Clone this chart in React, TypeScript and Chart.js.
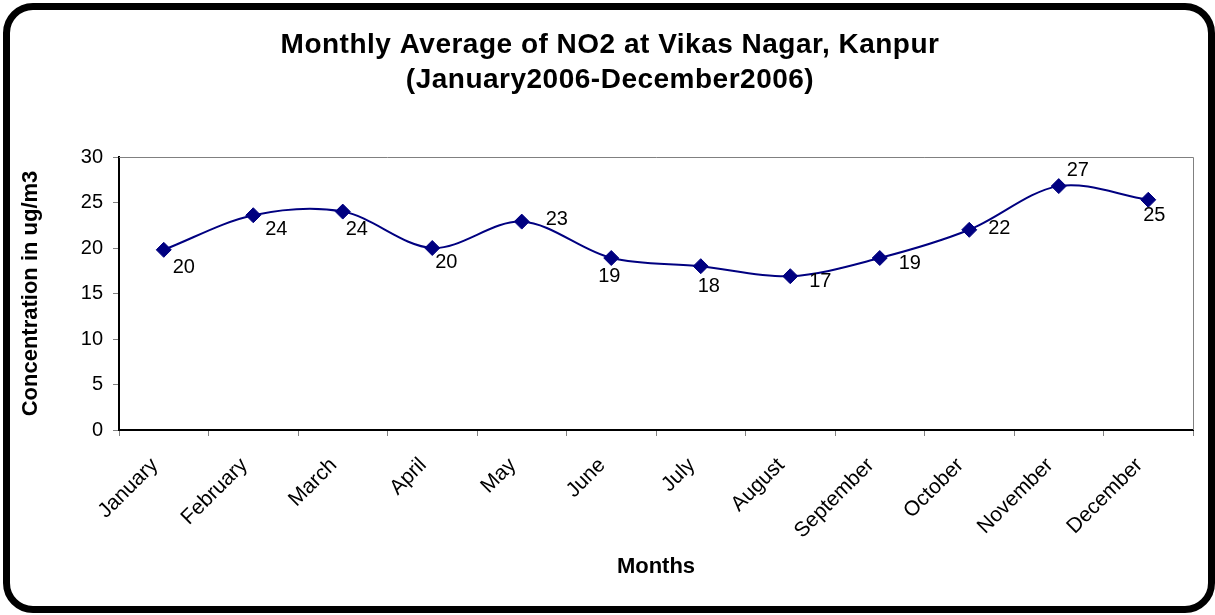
import React, { useEffect, useRef } from "react";
import { Chart, registerables } from "chart.js";

Chart.register(...registerables);

const FONT = '"Liberation Sans", Arial, Helvetica, sans-serif';

const months = [
  "January",
  "February",
  "March",
  "April",
  "May",
  "June",
  "July",
  "August",
  "September",
  "October",
  "November",
  "December",
];

const no2Values = [19.8, 23.6, 24.0, 20.0, 22.9, 18.9, 18.0, 16.9, 18.9, 22.0, 26.8, 25.3];

const titleLines = ["Monthly Average of NO2 at Vikas Nagar, Kanpur", "(January2006-December2006)"];
const xAxisTitle = "Months";
const yAxisTitle = "Concentration in ug/m3";
const yMin = 0;
const yMax = 30;
const yStep = 5;

// label placement offsets (style only, relative to each point)
const labelOffsets: [number, number][] = [
  [20, 18],
  [23, 14],
  [14, 18],
  [14, 14],
  [35, -2],
  [-2, 18],
  [8, 20],
  [30, 5],
  [30, 5],
  [30, -1],
  [19, -16],
  [6, 16],
];

const titlePlugin = {
  id: "customTitle",
  afterDraw(chart: any) {
    const ctx = chart.ctx as CanvasRenderingContext2D;
    ctx.save();
    ctx.font = `bold 28px ${FONT}`;
    ctx.fillStyle = "#000";
    ctx.textAlign = "center";
    ctx.textBaseline = "alphabetic";
    (ctx as any).letterSpacing = "0.5px";
    ctx.fillText(titleLines[0], 610, 53);
    ctx.fillText(titleLines[1], 610, 88);
    ctx.restore();
  },
};

const plotBorderPlugin = {
  id: "plotBorder",
  beforeDatasetsDraw(chart: any) {
    const { ctx, chartArea } = chart;
    ctx.save();
    ctx.strokeStyle = "#808080";
    ctx.lineWidth = 1;
    ctx.beginPath();
    ctx.moveTo(chartArea.left, Math.round(chartArea.top) + 0.5);
    ctx.lineTo(Math.round(chartArea.right) + 0.5, Math.round(chartArea.top) + 0.5);
    ctx.lineTo(Math.round(chartArea.right) + 0.5, chartArea.bottom);
    ctx.stroke();
    ctx.restore();
  },
};

const dataLabelPlugin = {
  id: "dataLabels",
  afterDatasetsDraw(chart: any) {
    const ctx = chart.ctx as CanvasRenderingContext2D;
    const meta = chart.getDatasetMeta(0);
    ctx.save();
    ctx.font = `20px ${FONT}`;
    ctx.fillStyle = "#000";
    ctx.textAlign = "center";
    ctx.textBaseline = "middle";
    meta.data.forEach((pt: any, i: number) => {
      const [dx, dy] = labelOffsets[i] || [10, 10];
      ctx.fillText(String(Math.round(no2Values[i])), pt.x + dx, pt.y + dy);
    });
    ctx.restore();
  },
};

export default function App() {
  const ref = useRef<HTMLCanvasElement>(null);

  useEffect(() => {
    document.body.style.margin = "0";
    const canvas = ref.current;
    if (!canvas) return;
    const chart = new Chart(canvas, {
      type: "line",
      data: {
        labels: months,
        datasets: [
          {
            data: no2Values,
            borderColor: "#000080",
            backgroundColor: "#000080",
            borderWidth: 2,
            tension: 0.33,
            fill: false,
            pointStyle: "rectRot",
            pointRadius: 7.5,
            pointBackgroundColor: "#000080",
            pointBorderColor: "#000080",
            pointBorderWidth: 1,
            clip: false,
          } as any,
        ],
      },
      options: {
        responsive: false,
        animation: false,
        devicePixelRatio: 1,
        layout: { padding: { left: 0, right: 22, top: 157, bottom: 0 } },
        plugins: {
          legend: { display: false },
          title: { display: false },
          tooltip: { enabled: false },
        },
        scales: {
          x: {
            type: "category",
            offset: true,
            grid: {
              offset: true,
              drawOnChartArea: false,
              drawTicks: true,
              tickLength: 6,
              tickColor: "#808080",
              tickWidth: 1,
            },
            border: { display: true, color: "#000", width: 2 },
            ticks: {
              color: "#000",
              font: { family: FONT, size: 21 },
              minRotation: 45,
              maxRotation: 45,
              padding: 17,
              labelOffset: -9,
              autoSkip: false,
            },
            title: {
              display: true,
              text: xAxisTitle,
              color: "#000",
              font: { family: FONT, size: 22, weight: "bold" },
              padding: { top: 0, bottom: 35 },
            },
            afterFit: (s: any) => {
              s.height = 185;
            },
          },
          y: {
            min: yMin,
            max: yMax,
            ticks: {
              stepSize: yStep,
              color: "#000",
              font: { family: FONT, size: 20 },
              padding: 10,
            },
            grid: {
              drawOnChartArea: false,
              drawTicks: true,
              tickLength: 6,
              tickColor: "#808080",
              tickWidth: 1,
            },
            border: { display: true, color: "#000", width: 2 },
            title: {
              display: true,
              text: yAxisTitle,
              color: "#000",
              font: { family: FONT, size: 22, weight: "bold" },
              padding: { top: 18, bottom: 0 },
            },
            afterFit: (s: any) => {
              s.width = 119;
            },
          },
        },
      } as any,
      plugins: [plotBorderPlugin, dataLabelPlugin, titlePlugin],
    });
    return () => chart.destroy();
  }, []);

  return (
    <div
      style={{
        position: "fixed",
        left: 0,
        top: 0,
        width: 1215,
        height: 615,
        background: "#fff",
        overflow: "hidden",
      }}
    >
      <div
        style={{
          position: "absolute",
          left: 3,
          top: 3,
          width: 1212,
          height: 610,
          border: "7px solid #000",
          borderRadius: 30,
          boxSizing: "border-box",
        }}
      />
      <canvas
        ref={ref}
        width={1215}
        height={615}
        style={{ position: "absolute", left: 0, top: 0, width: 1215, height: 615 }}
      />
    </div>
  );
}
